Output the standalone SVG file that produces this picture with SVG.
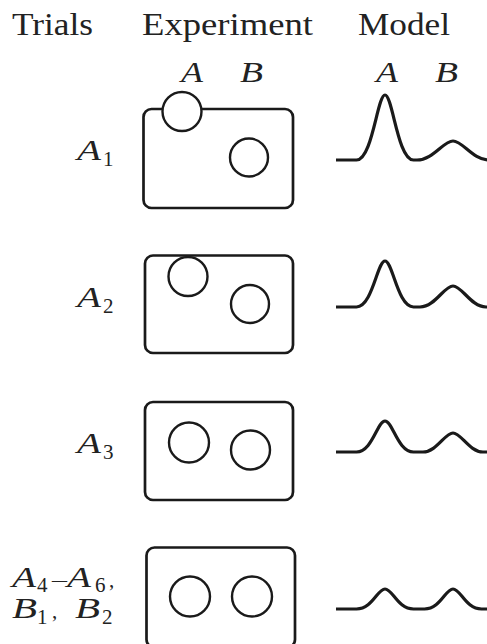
<svg xmlns="http://www.w3.org/2000/svg" width="487" height="644" viewBox="0 0 487 644">
  <style>
    .hdr { font-family: "Liberation Serif", "DejaVu Serif", serif; font-size: 32px; fill: #222; }
    .var { font-family: "Liberation Serif", "DejaVu Serif", serif; font-style: italic; font-size: 29px; fill: #222; }
    .big { font-size: 30px; }
    .sub { font-family: "Liberation Serif", "DejaVu Serif", serif; font-size: 21px; fill: #222; }
    .box { fill: none; stroke: #1a1a1a; stroke-width: 2.7; }
    .dot { fill: #fff; stroke: #1a1a1a; stroke-width: 2.4; }
    .curve { fill: none; stroke: #1a1a1a; stroke-width: 3.2; stroke-linejoin: round; }
  </style>
  <rect width="487" height="644" fill="#fff"/>

  <!-- column headings -->
  <g id="headings">
    <text class="hdr" x="12" y="35" textLength="81" lengthAdjust="spacingAndGlyphs">Trials</text>
    <text class="hdr" x="142" y="35" textLength="171" lengthAdjust="spacingAndGlyphs">Experiment</text>
    <text class="hdr" x="358" y="35" textLength="92" lengthAdjust="spacingAndGlyphs">Model</text>
    <text class="var" x="181" y="82" textLength="22" lengthAdjust="spacingAndGlyphs">A</text>
    <text class="var" x="240" y="82" textLength="23" lengthAdjust="spacingAndGlyphs">B</text>
    <text class="var" x="376" y="82" textLength="22" lengthAdjust="spacingAndGlyphs">A</text>
    <text class="var" x="435" y="82" textLength="23" lengthAdjust="spacingAndGlyphs">B</text>
  </g>

  <!-- trial labels -->
  <g id="label-a1">
    <text class="var big" x="77" y="160" textLength="24" lengthAdjust="spacingAndGlyphs">A</text>
    <text class="sub" x="103" y="166">1</text>
  </g>
  <g id="label-a2">
    <text class="var big" x="77" y="307" textLength="24" lengthAdjust="spacingAndGlyphs">A</text>
    <text class="sub" x="103" y="313">2</text>
  </g>
  <g id="label-a3">
    <text class="var big" x="77" y="453" textLength="24" lengthAdjust="spacingAndGlyphs">A</text>
    <text class="sub" x="103" y="459">3</text>
  </g>
  <g id="label-rest">
    <text class="var big" x="12" y="587" textLength="24" lengthAdjust="spacingAndGlyphs">A</text>
    <text class="sub" x="37" y="592">4</text>
    <text class="sub" x="52" y="587" font-size="30" textLength="15" lengthAdjust="spacingAndGlyphs">–</text>
    <text class="var big" x="67" y="587" textLength="24" lengthAdjust="spacingAndGlyphs">A</text>
    <text class="sub" x="95" y="592">6</text>
    <text class="sub" x="109" y="587" font-size="28">,</text>
    <text class="var big" x="12" y="618" textLength="25" lengthAdjust="spacingAndGlyphs">B</text>
    <text class="sub" x="37" y="624">1</text>
    <text class="sub" x="52" y="618" font-size="28">,</text>
    <text class="var big" x="75" y="618" textLength="25" lengthAdjust="spacingAndGlyphs">B</text>
    <text class="sub" x="102" y="624">2</text>
  </g>

  <!-- experiment panels -->
  <g id="exp-1">
    <rect class="box" x="143.5" y="109" width="149.5" height="99" rx="8"/>
    <circle class="dot" cx="182" cy="111.5" r="19.5"/>
    <circle class="dot" cx="249" cy="157.5" r="19"/>
  </g>
  <g id="exp-2">
    <rect class="box" x="145" y="255.5" width="148" height="97.5" rx="8"/>
    <circle class="dot" cx="188" cy="276.5" r="19.5"/>
    <circle class="dot" cx="250" cy="304" r="19"/>
  </g>
  <g id="exp-3">
    <rect class="box" x="145" y="402" width="148" height="98" rx="8"/>
    <circle class="dot" cx="189" cy="442.5" r="20"/>
    <circle class="dot" cx="250.5" cy="450" r="19.5"/>
  </g>
  <g id="exp-4">
    <rect class="box" x="146.5" y="547.5" width="148.5" height="100" rx="8"/>
    <circle class="dot" cx="190" cy="596.5" r="20"/>
    <circle class="dot" cx="252" cy="596.5" r="20"/>
  </g>

  <!-- model activation profiles -->
  <g id="connectors">
    <path class="curve" d="M336,160 L356.5,160 C372.3,160 377.4,95 385,95 C392.6,95 397.7,160 413.5,160 L417,160 C432.9,160 443.4,141 453,141 C462.6,141 473.1,160 489,160"/>
    <path class="curve" d="M336,307 L356.5,307 C372.3,307 377.4,261 385,261 C392.6,261 397.7,307 413.5,307 L420,307 C434.7,307 444.2,286 453,286 C461.8,286 471.3,307 486,307 L492,307"/>
    <path class="curve" d="M336,452 L356.5,452 C372.3,452 377.4,421 385,421 C392.6,421 397.7,452 413.5,452 L423,452 C436.4,452 445,433 453,433 C461,433 469.6,452 483,452 L492,452"/>
    <path class="curve" d="M336,609 L356.5,609 C372.3,609 377.4,589 385,589 C392.6,589 397.7,609 413.5,609 L424.5,609 C440.3,609 445.4,589 453,589 C460.6,589 465.7,609 481.5,609 L492,609"/>
  </g>
</svg>
